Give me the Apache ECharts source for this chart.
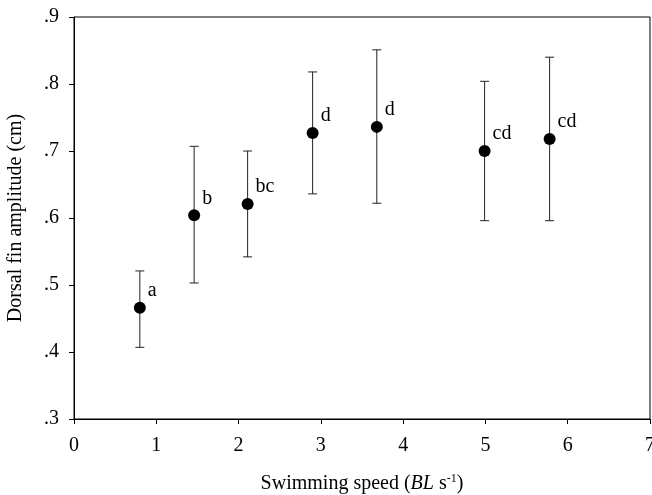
<!DOCTYPE html>
<html>
<head>
<meta charset="utf-8">
<script src="https://cdn.jsdelivr.net/npm/echarts@6/dist/echarts.min.js"></script>
<style>
html,body{margin:0;padding:0;background:#fff;}
#c{width:652px;height:495px;}
</style>
</head>
<body>
<div id="c"></div>
<script>
const speed = [0.80, 1.46, 2.11, 2.90, 3.68, 4.99, 5.78];
const amplitude = [0.466, 0.604, 0.621, 0.727, 0.736, 0.700, 0.718];
const upperErr = [0.521, 0.707, 0.700, 0.818, 0.851, 0.804, 0.840];
const lowerErr = [0.407, 0.503, 0.542, 0.636, 0.622, 0.596, 0.596];
const groupLetters = ['a', 'b', 'bc', 'd', 'd', 'cd', 'cd'];
const xTicks = [0, 1, 2, 3, 4, 5, 6, 7];
const yTickLabels = ['.3', '.4', '.5', '.6', '.7', '.8', '.9'];

const font = 'Liberation Serif';
const chart = echarts.init(document.getElementById('c'), null, {renderer: 'canvas'});

const points = speed.map((s, i) => [s, amplitude[i], groupLetters[i]]);
const bars = speed.map((s, i) => [s, lowerErr[i], upperErr[i]]);

chart.setOption({
  animation: false,
  backgroundColor: '#fff',
  grid: {left: 74, top: 17, right: 2, bottom: 76, show: true, borderColor: '#000', borderWidth: 1,
    containLabel: false, outerBoundsMode: 'none'},
  xAxis: {
    type: 'value', min: 0, max: 7, interval: 1,
    name: '{n|Swimming speed (}{i|BL}{n| s}{s|-1}{n|)}',
    nameLocation: 'middle', nameGap: 54,
    nameTextStyle: {
      rich: {
        n: {fontFamily: font, fontSize: 20, color: '#000'},
        i: {fontFamily: font, fontSize: 20, fontStyle: 'italic', color: '#000'},
        s: {fontFamily: font, fontSize: 12, color: '#000', verticalAlign: 'top', padding: [0, 0, 10, 0]}
      }
    },
    axisLine: {show: true, onZero: false, lineStyle: {color: '#000', width: 1}},
    axisTick: {show: true, inside: false, length: 5, lineStyle: {color: '#000'}},
    axisLabel: {fontFamily: font, fontSize: 20, color: '#000', margin: 17,
      formatter: v => String(xTicks[Math.round(v)])},
    splitLine: {show: false}
  },
  yAxis: {
    type: 'value', min: 0.3, max: 0.9, interval: 0.1,
    name: 'Dorsal fin amplitude (cm)',
    nameLocation: 'middle', nameGap: 48,
    nameTextStyle: {fontFamily: font, fontSize: 20, color: '#000'},
    axisLine: {show: true, onZero: false, lineStyle: {color: '#000', width: 1}},
    axisTick: {show: true, inside: false, length: 5, lineStyle: {color: '#000'}},
    axisLabel: {fontFamily: font, fontSize: 20, color: '#000', margin: 15,
      formatter: v => yTickLabels[Math.round((v - 0.3) * 10)]},
    splitLine: {show: false}
  },
  series: [
    {
      type: 'custom',
      data: bars,
      renderItem: function (params, api) {
        const x = api.value(0);
        const lo = api.coord([x, api.value(1)]);
        const hi = api.coord([x, api.value(2)]);
        const hw = 4.5;
        const style = {stroke: '#222', lineWidth: 1};
        return {
          type: 'group',
          children: [
            {type: 'line', shape: {x1: lo[0], y1: lo[1], x2: hi[0], y2: hi[1]}, style: style},
            {type: 'line', shape: {x1: lo[0] - hw, y1: lo[1], x2: lo[0] + hw, y2: lo[1]}, style: style},
            {type: 'line', shape: {x1: hi[0] - hw, y1: hi[1], x2: hi[0] + hw, y2: hi[1]}, style: style}
          ]
        };
      },
      z: 1
    },
    {
      type: 'scatter',
      data: points,
      symbol: 'circle',
      symbolSize: 12,
      itemStyle: {color: '#000', opacity: 1},
      label: {
        show: true,
        formatter: p => p.data[2],
        position: [14, -11],
        align: 'left',
        verticalAlign: 'middle',
        fontFamily: font,
        fontSize: 20,
        color: '#000'
      },
      z: 2
    }
  ]
});
</script>
</body>
</html>
